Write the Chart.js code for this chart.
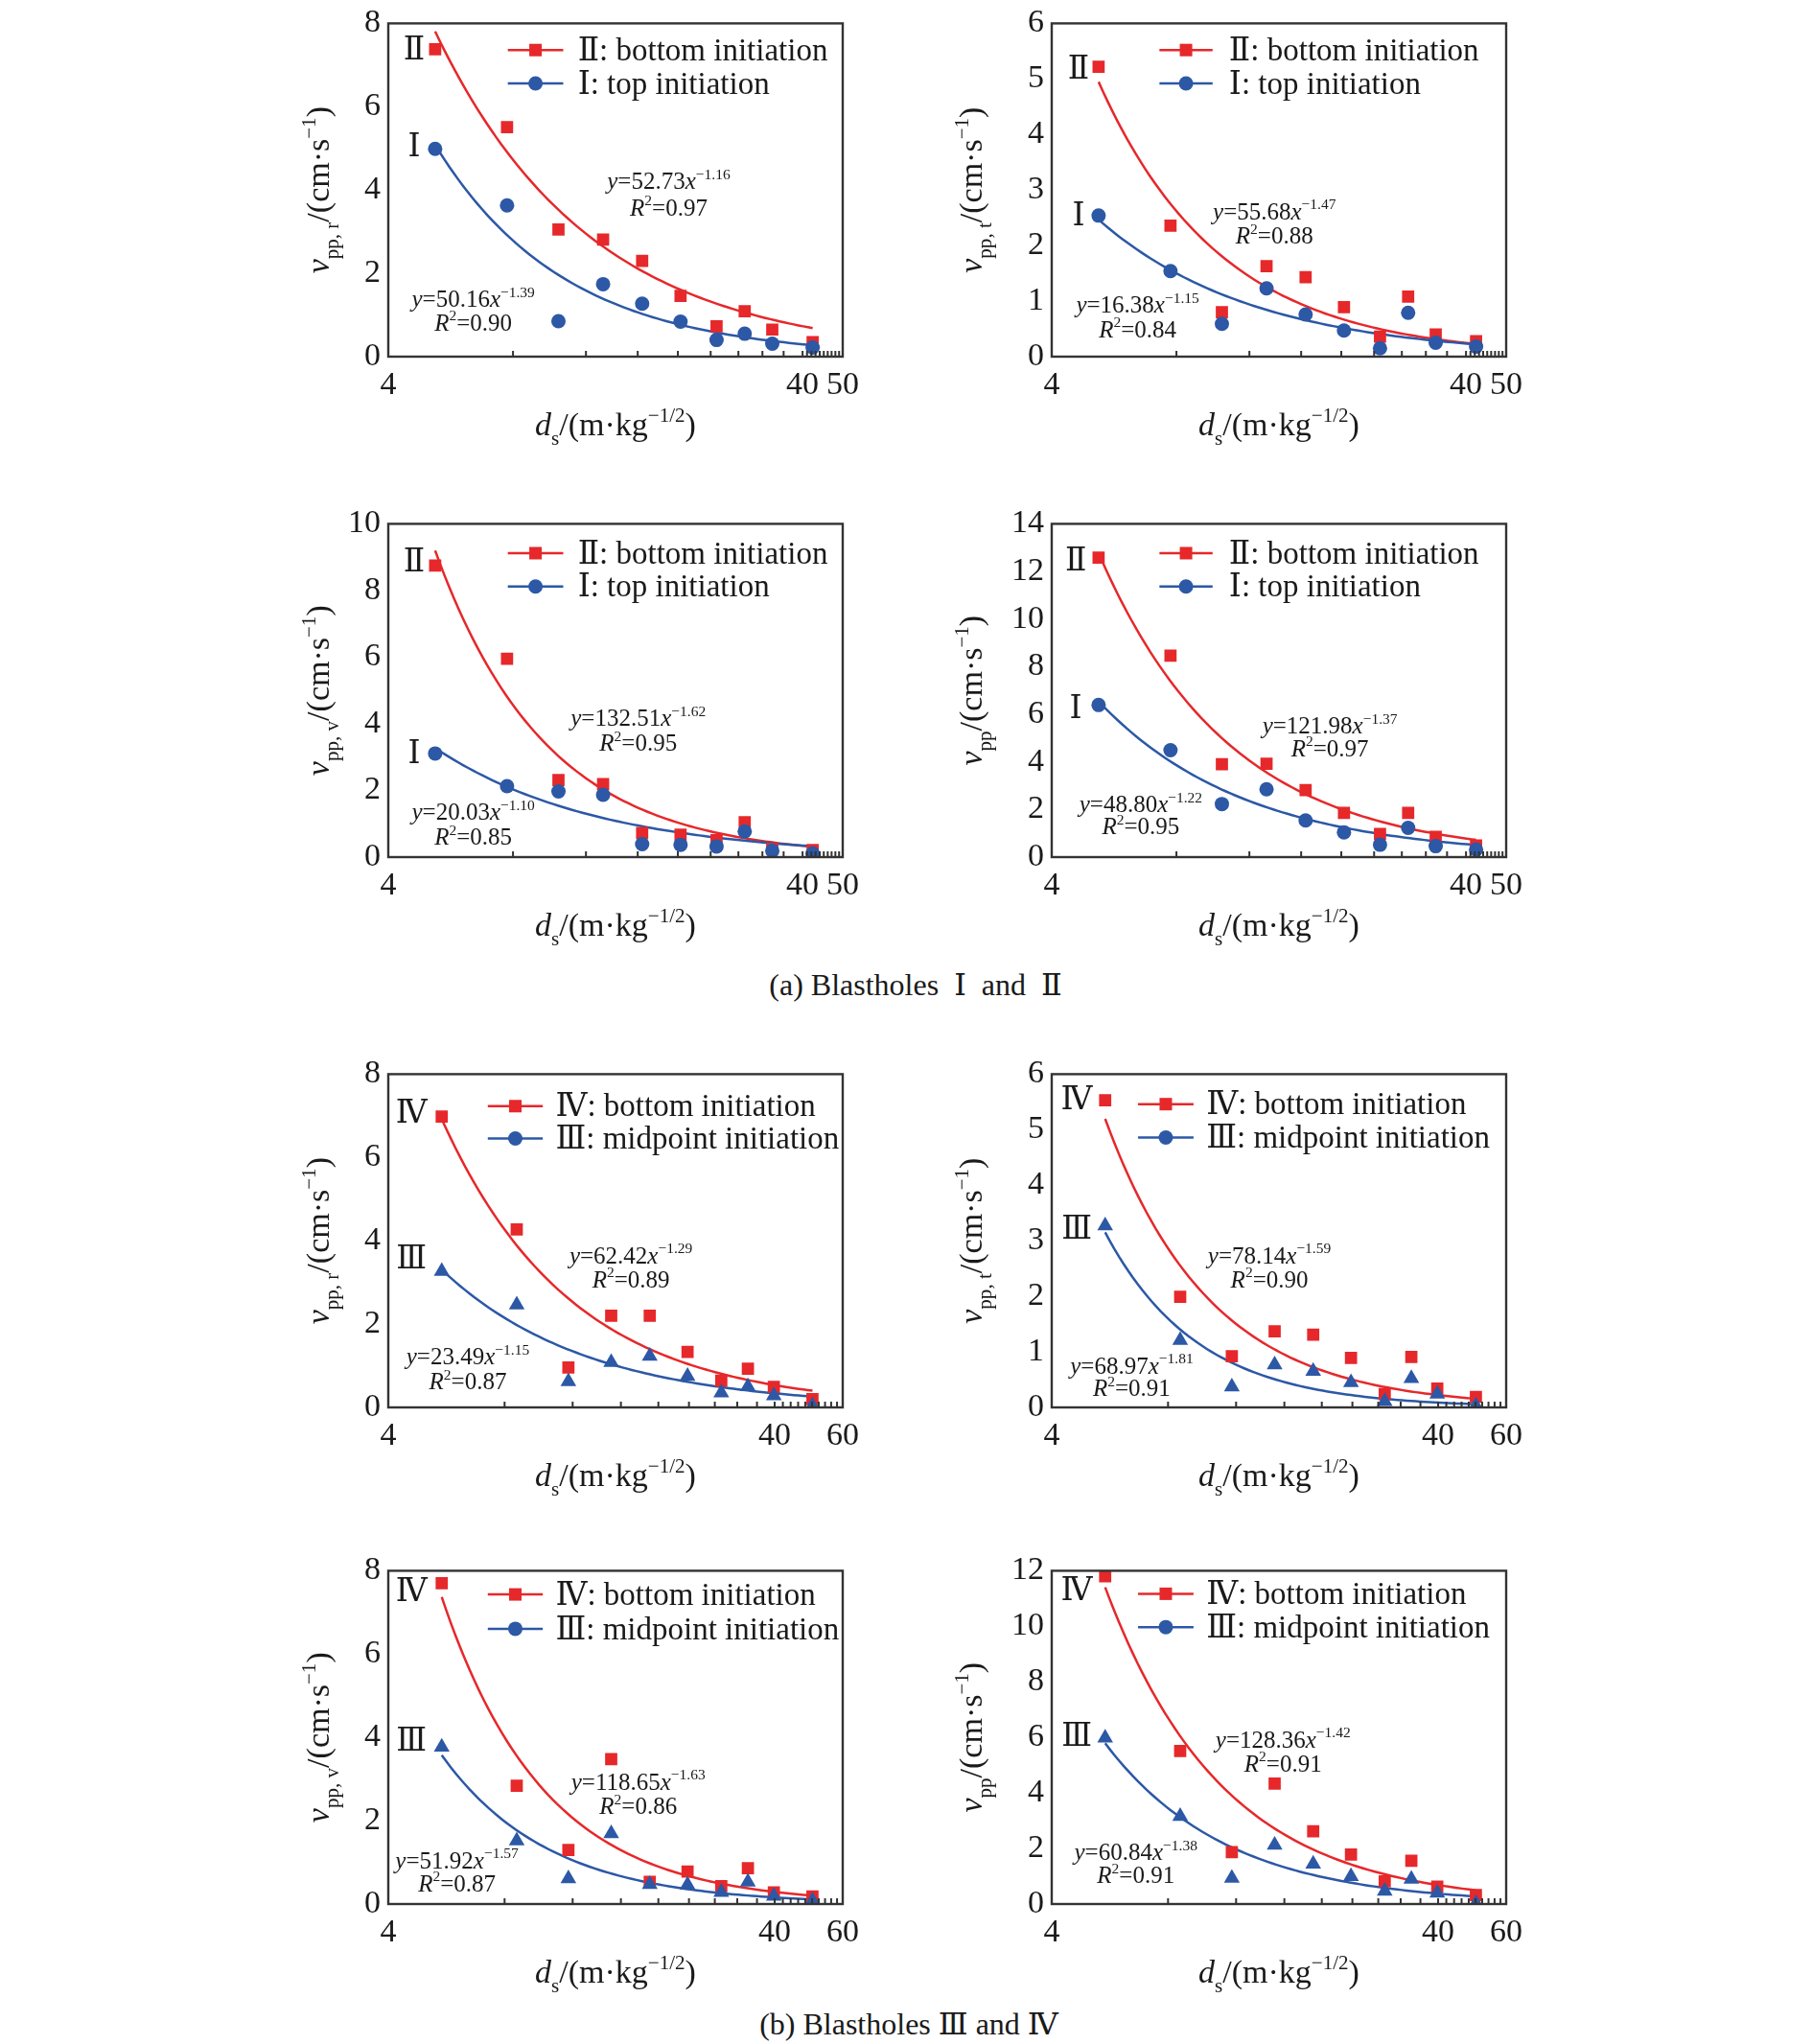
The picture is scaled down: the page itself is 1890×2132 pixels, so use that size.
<!DOCTYPE html>
<html>
<head>
<meta charset="utf-8">
<script src="https://cdn.jsdelivr.net/npm/chart.js@4.4.0/dist/chart.umd.min.js"></script>
<style>
  body { margin: 0; background: #fff; width: 1890px; height: 2132px; position: relative; overflow: hidden;
         font-family: "Liberation Serif", "Times New Roman", Times, "DejaVu Serif", serif; }
  canvas { position: absolute; }
  .cap { position: absolute; font-size: 32px; color: #1a1a1a; white-space: nowrap; transform: translateX(-50%); }
</style>
</head>
<body>
<div class="cap" style="left:955px; top:1008px">(a) Blastholes&nbsp; Ⅰ&nbsp; and&nbsp; Ⅱ</div>
<div class="cap" style="left:948px; top:2092px">(b) Blastholes Ⅲ and Ⅳ</div>

<script>
// scaled distance d_s for the two groups of blastholes
const distA = [5.19, 7.74, 10.3, 13.2, 16.4, 20.3, 24.8, 29.0, 33.8, 42.3];
const distB = [5.5, 8.6, 11.7, 15.1, 19.0, 23.8, 29.1, 34.1, 39.8, 50.1];

// (a) blastholes I and II : radial, tangential, vertical, resultant
const aRadII = [7.38, 5.51, 3.05, 2.81, 2.30, 1.46, 0.73, 1.09, 0.65, 0.35];
const aRadI  = [4.99, 3.63, 0.85, 1.74, 1.27, 0.84, 0.40, 0.55, 0.31, 0.22];
const aTanII = [5.22, 2.36, 0.80, 1.63, 1.43, 0.89, 0.36, 1.08, 0.40, 0.28];
const aTanI  = [2.54, 1.54, 0.59, 1.23, 0.76, 0.47, 0.15, 0.79, 0.25, 0.18];
const aVerII = [8.75, 5.95, 2.31, 2.19, 0.72, 0.67, 0.51, 1.05, 0.25, 0.21];
const aVerI  = [3.11, 2.13, 1.97, 1.87, 0.39, 0.37, 0.32, 0.77, 0.19, 0.11];
const aResII = [12.58, 8.46, 3.90, 3.92, 2.81, 1.86, 0.97, 1.86, 0.85, 0.49];
const aResI  = [6.39, 4.49, 2.23, 2.85, 1.54, 1.04, 0.52, 1.23, 0.46, 0.31];

// (b) blastholes III and IV
const bRadIV  = [6.98, 4.27, 0.96, 2.20, 2.20, 1.33, 0.64, 0.93, 0.49, 0.20];
const bRadIII = [3.27, 2.46, 0.62, 1.08, 1.23, 0.75, 0.35, 0.50, 0.28, 0.04];
const bTanIV  = [5.53, 1.99, 0.92, 1.37, 1.31, 0.89, 0.24, 0.91, 0.34, 0.19];
const bTanIII = [3.27, 1.21, 0.37, 0.77, 0.65, 0.45, 0.11, 0.52, 0.24, 0.03];
const bVerIV  = [7.70, 2.84, 1.30, 3.48, 0.53, 0.78, 0.43, 0.86, 0.28, 0.18];
const bVerIII = [3.77, 1.52, 0.61, 1.69, 0.47, 0.46, 0.28, 0.53, 0.19, 0.08];
const bResIV  = [11.80, 5.51, 1.87, 4.34, 2.62, 1.78, 0.82, 1.56, 0.63, 0.32];
const bResIII = [5.98, 3.16, 0.93, 2.12, 1.44, 0.99, 0.47, 0.90, 0.40, 0.03];

// fitted power laws y = k x^n  [red, blue]
const fitK  = [[52.73, 50.16], [55.68, 16.38], [132.51, 20.03], [121.98, 48.80],
               [62.42, 23.49], [78.14, 68.97], [118.65, 51.92], [128.36, 60.84]];
const fitN  = [[-1.16, -1.39], [-1.47, -1.15], [-1.62, -1.10], [-1.37, -1.22],
               [-1.29, -1.15], [-1.59, -1.81], [-1.63, -1.57], [-1.42, -1.38]];
const fitR2 = [['0.97', '0.90'], ['0.88', '0.84'], ['0.95', '0.85'], ['0.97', '0.95'],
               ['0.89', '0.87'], ['0.90', '0.91'], ['0.86', '0.87'], ['0.91', '0.91']];

// y axis maxima / steps, tick labels of the x axis
const yMax  = [8, 6, 10, 14, 8, 6, 8, 12];
const yStep = [2, 1, 2, 2, 2, 1, 2, 2];
const xTicksA = [4, 40, 50];
const xTicksB = [4, 40, 60];
const subs = ['pp, r', 'pp, t', 'pp, v', 'pp'];

const FONT = '"Liberation Serif","Times New Roman",Times,"DejaVu Serif",serif';
const RED = '#e6282b', BLUE = '#2c58a6', INK = '#1a1a1a';

function segFont(s, size) {
  const sz = (s.sub || s.sup) ? size * 0.62 : size;
  return (s.i ? 'italic ' : '') + sz + 'px ' + FONT;
}
function measure(ctx, segs, size) {
  let w = 0;
  segs.forEach(s => { ctx.font = segFont(s, size); w += ctx.measureText(s.t).width; });
  return w;
}
// x = centre, y = baseline
function drawRich(ctx, segs, x, y, size) {
  let cx = x - measure(ctx, segs, size) / 2;
  ctx.textAlign = 'left';
  ctx.textBaseline = 'alphabetic';
  segs.forEach(s => {
    ctx.font = segFont(s, size);
    const dy = s.sub ? size * 0.28 : s.sup ? -size * 0.42 : 0;
    ctx.fillText(s.t, cx, y + dy);
    cx += ctx.measureText(s.t).width;
  });
}

function powerCurve(k, n, x0, x1) {
  const pts = [];
  for (let i = 0; i <= 80; i++) {
    const x = x0 * Math.pow(x1 / x0, i / 80);
    pts.push({ x: x, y: k * Math.pow(x, n) });
  }
  return pts;
}

const deco = {
  id: 'deco',
  afterDatasetsDraw(chart, args, o) {
    const { ctx, chartArea: a, scales } = chart;
    const W = a.right - a.left, H = a.bottom - a.top;
    const X = f => a.left + f * W, Y = f => a.top + f * H;
    ctx.save();
    ctx.strokeStyle = '#333';
    ctx.lineWidth = 2;
    ctx.beginPath();
    o.xMinor.forEach(v => {
      const px = scales.x.getPixelForValue(v);
      ctx.moveTo(px, a.bottom); ctx.lineTo(px, a.bottom - 6);
    });
    ctx.stroke();
    ctx.lineWidth = 2.4;
    ctx.strokeRect(a.left, a.top, W, H);

    // legend
    o.legend.forEach((row, i) => {
      const ly = Y(o.legY[i]);
      ctx.strokeStyle = row.c; ctx.lineWidth = 2.5;
      ctx.beginPath(); ctx.moveTo(X(o.legX[0]), ly); ctx.lineTo(X(o.legX[1]), ly); ctx.stroke();
      const mx = (X(o.legX[0]) + X(o.legX[1])) / 2;
      ctx.fillStyle = row.c;
      if (row.m === 'sq') ctx.fillRect(mx - 6.5, ly - 6.5, 13, 13);
      else { ctx.beginPath(); ctx.arc(mx, ly, 7.5, 0, Math.PI * 2); ctx.fill(); }
      ctx.fillStyle = INK;
      ctx.font = '33px ' + FONT;
      ctx.textAlign = 'left'; ctx.textBaseline = 'middle';
      ctx.fillText(row.t, X(o.legX[2]), ly + 2);
    });

    // roman numerals near the first points
    ctx.font = '33px ' + FONT;
    ctx.fillStyle = INK;
    ctx.textAlign = 'center'; ctx.textBaseline = 'middle';
    o.romans.forEach(r => ctx.fillText(r.t, X(r.x), Y(r.y)));

    // fit equations
    o.eqs.forEach(e => {
      drawRich(ctx, [{ t: 'y', i: 1 }, { t: '=' + e.k.toFixed(2) }, { t: 'x', i: 1 },
                     { t: '−' + Math.abs(e.n).toFixed(2), sup: 1 }], X(e.x), Y(e.y) + 9, 25);
      drawRich(ctx, [{ t: 'R', i: 1 }, { t: '2', sup: 1 }, { t: '=' + e.r2 }], X(e.x), Y(e.y2) + 9, 25);
    });

    // axis titles
    drawRich(ctx, [{ t: 'd', i: 1 }, { t: 's', sub: 1 }, { t: '/(m·kg' }, { t: '−1/2', sup: 1 }, { t: ')' }],
             (a.left + a.right) / 2, a.bottom + 82, 34);
    ctx.save();
    ctx.translate(a.left - o.yTitleOff, (a.top + a.bottom) / 2);
    ctx.rotate(-Math.PI / 2);
    drawRich(ctx, [{ t: 'v', i: 1 }, { t: o.sub, sub: 1 }, { t: '/(cm·s' }, { t: '−1', sup: 1 }, { t: ')' }],
             0, 11, 34);
    ctx.restore();
    ctx.restore();
  }
};

const PLOT_W = 474, PLOT_H = 356;
const colLeft = [405, 1097];
const rowTop = [16, 538, 1112, 1630];

// per panel text placement (fractions of the plot box)
const layout = [
  { legY: [0.08, 0.18], legX: [0.263, 0.385, 0.417], eqR: [0.617, 0.471, 0.55], eqB: [0.187, 0.825, 0.895], rom: [0.057, 0.084, 0.375] },
  { legY: [0.08, 0.18], legX: [0.237, 0.354, 0.39], eqR: [0.49, 0.562, 0.635], eqB: [0.189, 0.843, 0.916], rom: [0.059, 0.14, 0.58] },
  { legY: [0.088, 0.188], legX: [0.263, 0.385, 0.417], eqR: [0.55, 0.58, 0.656], eqB: [0.187, 0.862, 0.937], rom: [0.057, 0.117, 0.693] },
  { legY: [0.088, 0.188], legX: [0.237, 0.354, 0.39], eqR: [0.612, 0.603, 0.672], eqB: [0.196, 0.839, 0.906], rom: [0.053, 0.115, 0.558] },
  { legY: [0.096, 0.193], legX: [0.219, 0.34, 0.368], eqR: [0.534, 0.542, 0.614], eqB: [0.175, 0.845, 0.92], rom: [0.051, 0.122, 0.558] },
  { legY: [0.09, 0.19], legX: [0.19, 0.312, 0.34], eqR: [0.479, 0.542, 0.614], eqB: [0.176, 0.873, 0.94], rom: [0.055, 0.081, 0.468] },
  { legY: [0.071, 0.174], legX: [0.219, 0.34, 0.368], eqR: [0.55, 0.631, 0.705], eqB: [0.151, 0.867, 0.936], rom: [0.051, 0.067, 0.514] },
  { legY: [0.069, 0.169], legX: [0.19, 0.312, 0.34], eqR: [0.509, 0.504, 0.576], eqB: [0.185, 0.842, 0.911], rom: [0.055, 0.064, 0.5] }
];

const redSeries = [aRadII, aTanII, aVerII, aResII, bRadIV, bTanIV, bVerIV, bResIV];
const blueSeries = [aRadI, aTanI, aVerI, aResI, bRadIII, bTanIII, bVerIII, bResIII];

// minor ticks on the log x axis
const minorA = [8, 12, 16, 20, 24, 28, 32, 36, 40, 41, 42, 43, 44, 45, 46, 47, 48, 49];
const minorB = [8, 12, 16, 20, 24, 28, 32, 36, 40, 42, 44, 46, 48, 50, 52, 54, 56, 58];

for (let p = 0; p < 8; p++) {
  const groupB = p >= 4;
  const col = p % 2, row = Math.floor(p / 2);
  const dist = groupB ? distB : distA;
  const L = layout[p];
  const hi = groupB ? 'Ⅳ' : 'Ⅱ', lo = groupB ? 'Ⅲ' : 'Ⅰ';

  const cv = document.createElement('canvas');
  const cw = 150 + PLOT_W + 40, ch = 20 + PLOT_H + 110;
  cv.width = cw; cv.height = ch;
  cv.style.left = (colLeft[col] - 150) + 'px';
  cv.style.top = (rowTop[row] - 20) + 'px';
  cv.style.width = cw + 'px'; cv.style.height = ch + 'px';
  document.body.appendChild(cv);

  const redPts = dist.map((x, i) => ({ x: x, y: redSeries[p][i] }));
  const bluePts = dist.map((x, i) => ({ x: x, y: blueSeries[p][i] }));
  const x0 = dist[0], x1 = dist[dist.length - 1];

  new Chart(cv, {
    type: 'scatter',
    data: {
      datasets: [
        { data: bluePts, backgroundColor: BLUE, borderWidth: 0,
          pointStyle: groupB ? 'triangle' : 'circle', pointRadius: groupB ? 9.5 : 7.5 },
        { data: redPts, backgroundColor: RED, borderWidth: 0, pointStyle: 'rect', pointRadius: 9 },
        { data: powerCurve(fitK[p][1], fitN[p][1], x0, x1), showLine: true, borderColor: BLUE,
          borderWidth: 2.5, pointRadius: 0, tension: 0 },
        { data: powerCurve(fitK[p][0], fitN[p][0], x0, x1), showLine: true, borderColor: RED,
          borderWidth: 2.5, pointRadius: 0, tension: 0 }
      ]
    },
    options: {
      responsive: false,
      devicePixelRatio: 1,
      animation: false,
      events: [],
      layout: { padding: { top: 20, right: 40, left: 0, bottom: 0 } },
      plugins: {
        legend: { display: false },
        tooltip: { enabled: false },
        deco: {
          xMinor: groupB ? minorB : minorA,
          yTitleOff: col === 0 ? 73 : 84,
          sub: subs[p % 4],
          legY: L.legY, legX: L.legX,
          legend: [
            { t: hi + ': bottom initiation', c: RED, m: 'sq' },
            { t: lo + (groupB ? ': midpoint initiation' : ': top initiation'), c: BLUE, m: 'ci' }
          ],
          romans: [{ t: hi, x: L.rom[0], y: L.rom[1] }, { t: lo, x: L.rom[0], y: L.rom[2] }],
          eqs: [
            { k: fitK[p][0], n: fitN[p][0], r2: fitR2[p][0], x: L.eqR[0], y: L.eqR[1], y2: L.eqR[2] },
            { k: fitK[p][1], n: fitN[p][1], r2: fitR2[p][1], x: L.eqB[0], y: L.eqB[1], y2: L.eqB[2] }
          ]
        }
      },
      scales: {
        x: {
          type: 'logarithmic',
          min: 4, max: groupB ? 60 : 50,
          grid: { display: false, drawTicks: false },
          border: { display: false },
          afterBuildTicks: s => { s.ticks = (groupB ? xTicksB : xTicksA).map(v => ({ value: v })); },
          afterFit: s => { s.height = 110; },
          ticks: { padding: 10, color: INK, font: { family: FONT, size: 34 }, maxRotation: 0,
                   autoSkip: false, callback: v => String(v) }
        },
        y: {
          min: 0, max: yMax[p],
          grid: { display: false, drawTicks: false },
          border: { display: false },
          afterFit: s => { s.width = 150; },
          ticks: { stepSize: yStep[p], padding: 8, color: INK, font: { family: FONT, size: 34 } }
        }
      }
    },
    plugins: [deco]
  });
}
</script>
</body>
</html>
